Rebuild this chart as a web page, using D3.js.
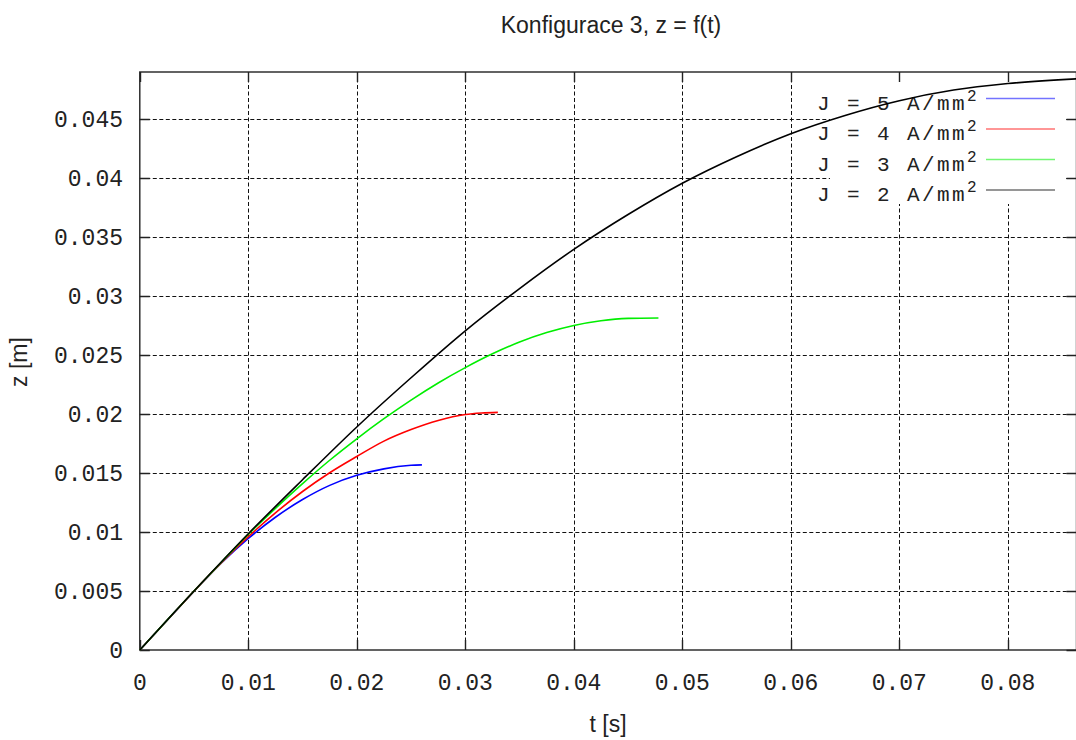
<!DOCTYPE html>
<html>
<head>
<meta charset="utf-8">
<script src="https://cdn.jsdelivr.net/npm/d3@7"></script>
<style>
  body { margin: 0; background: #fff; }
  svg { display: block; }
  .tick-label { font-family: "Liberation Mono", "DejaVu Sans Mono", monospace; font-size: 23px; fill: #222; }
  .axis-title { font-family: "Liberation Sans", Arial, sans-serif; font-size: 23px; fill: #222; }
  .key-text { font-family: "Liberation Mono", monospace; font-size: 21px; letter-spacing: 2.4px; fill: #222; }
</style>
</head>
<body>
<div id="chart"></div>
<script>
// series: [t (s), z (m)]
var j5 = [[0, 0], [0.0025, 0.00250], [0.005, 0.00498], [0.0075, 0.00735], [0.010, 0.00945], [0.0125, 0.01125],
    [0.015, 0.01275], [0.0175, 0.01395], [0.020, 0.01480], [0.0225, 0.01535], [0.025, 0.01565], [0.026, 0.01569]];
var j4 = [[0, 0], [0.0025, 0.00250], [0.005, 0.00499], [0.0075, 0.00738], [0.010, 0.00960], [0.0125, 0.01162],
    [0.015, 0.01343], [0.0175, 0.01502], [0.020, 0.01640], [0.0225, 0.01770], [0.025, 0.01868],
    [0.0275, 0.01945], [0.030, 0.01995], [0.0315, 0.02008], [0.033, 0.02014]];
var j3 = [[0, 0], [0.0025, 0.00251], [0.005, 0.00500], [0.0075, 0.00742], [0.010, 0.00980], [0.0125, 0.01200],
    [0.015, 0.01410], [0.0175, 0.01608], [0.020, 0.01790], [0.0225, 0.01960], [0.025, 0.02118],
    [0.0275, 0.02263], [0.030, 0.02393], [0.0325, 0.02510], [0.035, 0.02610], [0.0375, 0.02690],
    [0.040, 0.02750], [0.0425, 0.02790], [0.045, 0.02810], [0.0478, 0.02814]];
var j2 = [[0, 0], [0.005, 0.00500], [0.010, 0.00985], [0.015, 0.01443], [0.020, 0.01890], [0.025, 0.02307],
    [0.030, 0.02705], [0.035, 0.03063], [0.040, 0.03395], [0.045, 0.03690], [0.050, 0.03955],
    [0.055, 0.04180], [0.060, 0.04375], [0.065, 0.04530], [0.070, 0.04655], [0.075, 0.04745],
    [0.080, 0.04800], [0.0863, 0.04840]];

var seriesNames = ["J = 5 A/mm", "J = 4 A/mm", "J = 3 A/mm", "J = 2 A/mm"];
var seriesColors = ["#0000ff", "#ff0000", "#00ee00", "#000000"];
var seriesData = [j5, j4, j3, j2];

var xTicks = [0, 0.01, 0.02, 0.03, 0.04, 0.05, 0.06, 0.07, 0.08];
var yTicks = [0, 0.005, 0.01, 0.015, 0.02, 0.025, 0.03, 0.035, 0.04, 0.045];

const width = 1076;
const height = 740;
const plotL = 139.8, plotR = 1076.5, plotT = 72, plotB = 650;

const x = d3.scaleLinear().domain([0, 0.08633]).range([plotL, plotR]);
const y = d3.scaleLinear().domain([0, 0.04898]).range([plotB, plotT]);

const svg = d3.select("#chart").append("svg")
    .attr("width", width)
    .attr("height", height)
    .attr("viewBox", [0, 0, width, height]);

svg.append("rect").attr("width", width).attr("height", height).attr("fill", "#fff");

// grid
const grid = svg.append("g").attr("stroke", "#111").attr("stroke-width", 1).attr("stroke-dasharray", "4,2.5");
grid.selectAll(".gx").data(xTicks.slice(1)).join("line")
    .attr("x1", d => Math.round(x(d)) + 0.5).attr("x2", d => Math.round(x(d)) + 0.5)
    .attr("y1", plotT).attr("y2", plotB);
grid.selectAll(".gy").data(yTicks.slice(1)).join("line")
    .attr("x1", plotL).attr("x2", plotR)
    .attr("y1", d => Math.round(y(d)) + 0.5).attr("y2", d => Math.round(y(d)) + 0.5);

// key background clears the grid
svg.append("rect").attr("x", 830).attr("y", plotT + 1).attr("width", 236).attr("height", 131).attr("fill", "#fff");

// border + ticks (mirrored)
const axes = svg.append("g").attr("stroke", "#222").attr("stroke-width", 1.4).attr("fill", "none");
axes.append("rect").attr("x", plotL).attr("y", plotT).attr("width", plotR - plotL).attr("height", plotB - plotT);
axes.selectAll(".tx").data(xTicks).join("path")
    .attr("d", d => `M${Math.round(x(d)) + 0.5},${plotB}v-10M${Math.round(x(d)) + 0.5},${plotT}v10`);
axes.selectAll(".ty").data(yTicks).join("path")
    .attr("d", d => `M${plotL},${Math.round(y(d)) + 0.5}h10M${plotR},${Math.round(y(d)) + 0.5}h-10`);

// tick labels
svg.append("g").selectAll("text").data(xTicks).join("text")
    .attr("class", "tick-label")
    .attr("x", d => x(d)).attr("y", 690)
    .attr("text-anchor", "middle")
    .text(d => d3.format("")(d));
svg.append("g").selectAll("text").data(yTicks).join("text")
    .attr("class", "tick-label")
    .attr("x", 123).attr("y", d => y(d) + 8)
    .attr("text-anchor", "end")
    .text(d => d3.format("")(d));

// titles
svg.append("text").attr("class", "axis-title").attr("x", 611).attr("y", 33)
    .attr("text-anchor", "middle").text("Konfigurace 3, z = f(t)");
svg.append("text").attr("class", "axis-title").attr("x", 608).attr("y", 732)
    .attr("text-anchor", "middle").text("t [s]");
svg.append("text").attr("class", "axis-title")
    .attr("transform", "translate(27,362) rotate(-90)")
    .attr("text-anchor", "middle").text("z [m]");

// key
const key = svg.append("g");
seriesNames.forEach((name, i) => {
    const ly = 98.5 + i * 30.5;
    const t = key.append("text").attr("class", "key-text")
        .attr("x", 817).attr("y", ly + 11).attr("xml:space", "preserve");
    t.append("tspan").text(name);
    t.append("tspan").attr("dy", -9).attr("font-size", 16).text("2");
    key.append("line").attr("x1", 986).attr("x2", 1055).attr("y1", ly).attr("y2", ly)
        .attr("stroke", seriesColors[i]).attr("stroke-opacity", 0.55).attr("stroke-width", 1.3);
});

// curves
const line = d3.line().x(d => x(d[0])).y(d => y(d[1])).curve(d3.curveMonotoneX);
svg.append("g").attr("fill", "none").attr("stroke-width", 1.6)
    .selectAll("path").data(seriesData).join("path")
    .attr("stroke", (d, i) => seriesColors[i])
    .attr("d", line);
</script>
</body>
</html>
